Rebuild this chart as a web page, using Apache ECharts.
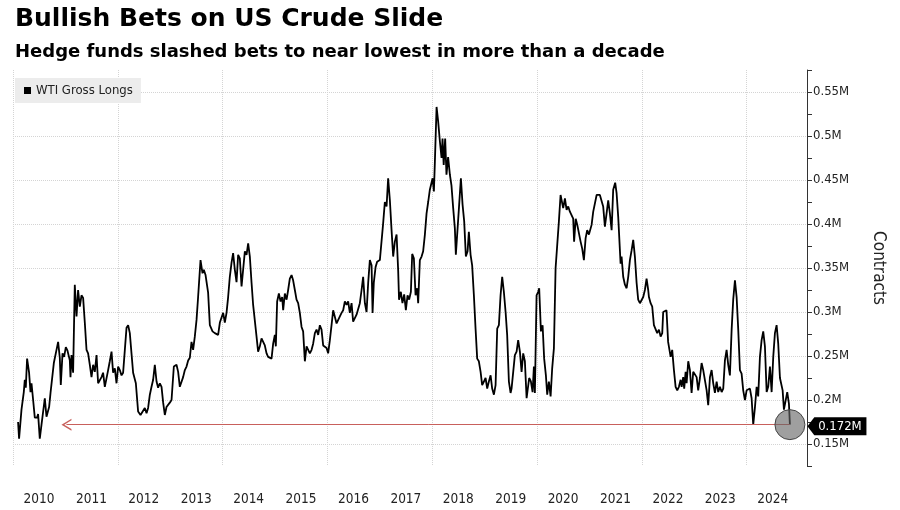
<!DOCTYPE html>
<html><head><meta charset="utf-8">
<script src="https://cdn.jsdelivr.net/npm/echarts@6/dist/echarts.min.js"></script>
<style>html,body{margin:0;padding:0;background:#fff}#c{width:900px;height:510px}</style>
</head><body><div id="c"></div>
<script>
// Weekly-ish readings of WTI gross long positions (thousand contracts) by fractional year
const years = [2010.097,2010.116,2010.162,2010.206,2010.225,2010.244,2010.269,2010.307,2010.334,2010.353,
2010.384,2010.416,2010.460,2010.479,2010.511,2010.544,2010.574,2010.607,2010.639,2010.689,
2010.716,2010.746,2010.779,2010.811,2010.830,2010.861,2010.893,2010.912,2010.945,2010.975,
2011.008,2011.040,2011.065,2011.084,2011.097,2011.116,2011.147,2011.179,2011.212,2011.242,
2011.275,2011.307,2011.338,2011.370,2011.403,2011.433,2011.466,2011.498,2011.529,2011.561,
2011.594,2011.624,2011.656,2011.689,2011.719,2011.752,2011.784,2011.815,2011.847,2011.880,
2011.910,2011.943,2011.975,2012.006,2012.038,2012.071,2012.101,2012.134,2012.166,2012.197,
2012.229,2012.261,2012.292,2012.344,2012.387,2012.433,2012.471,2012.515,2012.548,2012.578,
2012.611,2012.643,2012.674,2012.706,2012.739,2012.769,2012.802,2012.834,2012.865,2012.897,
2012.929,2012.960,2012.992,2013.025,2013.069,2013.120,2013.151,2013.183,2013.216,2013.246,
2013.279,2013.311,2013.342,2013.374,2013.406,2013.437,2013.469,2013.502,2013.532,2013.578,
2013.616,2013.641,2013.674,2013.723,2013.756,2013.807,2013.851,2013.914,2013.947,2013.979,
2014.010,2014.042,2014.074,2014.105,2014.137,2014.170,2014.200,2014.233,2014.265,2014.296,
2014.328,2014.361,2014.391,2014.424,2014.456,2014.487,2014.519,2014.552,2014.582,2014.615,
2014.647,2014.677,2014.710,2014.742,2014.773,2014.805,2014.838,2014.868,2014.901,2014.933,
2014.964,2014.996,2015.015,2015.040,2015.073,2015.105,2015.136,2015.155,2015.187,2015.220,
2015.250,2015.282,2015.315,2015.345,2015.378,2015.410,2015.441,2015.473,2015.506,2015.536,
2015.569,2015.601,2015.632,2015.664,2015.697,2015.727,2015.760,2015.792,2015.823,2015.855,
2015.887,2015.918,2015.950,2015.983,2016.013,2016.046,2016.078,2016.109,2016.141,2016.174,
2016.204,2016.237,2016.269,2016.300,2016.332,2016.365,2016.395,2016.427,2016.460,2016.490,
2016.523,2016.555,2016.586,2016.618,2016.651,2016.681,2016.714,2016.746,2016.777,2016.809,
2016.842,2016.861,2016.884,2016.918,2016.948,2017.000,2017.033,2017.063,2017.095,2017.128,
2017.158,2017.191,2017.223,2017.254,2017.286,2017.319,2017.350,2017.366,2017.400,2017.431,
2017.464,2017.496,2017.528,2017.559,2017.592,2017.617,2017.649,2017.681,2017.712,2017.731,
2017.763,2017.796,2017.826,2017.859,2017.891,2017.922,2017.954,2017.987,2018.006,2018.031,
2018.050,2018.082,2018.113,2018.145,2018.177,2018.196,2018.218,2018.246,2018.271,2018.302,
2018.336,2018.366,2018.399,2018.431,2018.450,2018.483,2018.513,2018.546,2018.578,2018.609,
2018.641,2018.674,2018.698,2018.731,2018.761,2018.794,2018.826,2018.857,2018.889,2018.922,
2018.952,2018.985,2019.017,2019.048,2019.080,2019.113,2019.143,2019.176,2019.208,2019.239,
2019.271,2019.303,2019.334,2019.366,2019.399,2019.429,2019.462,2019.494,2019.513,2019.544,
2019.576,2019.609,2019.639,2019.672,2019.704,2019.735,2019.767,2019.800,2019.830,2019.849,
2019.882,2019.914,2019.939,2019.958,2019.990,2020.021,2020.040,2020.073,2020.105,2020.135,
2020.168,2020.193,2020.225,2020.258,2020.288,2020.321,2020.353,2020.384,2020.416,2020.448,
2020.479,2020.498,2020.531,2020.563,2020.594,2020.626,2020.658,2020.689,2020.706,2020.737,
2020.767,2020.798,2020.830,2020.861,2020.893,2020.926,2020.956,2020.989,2021.040,2021.071,
2021.103,2021.136,2021.166,2021.198,2021.231,2021.261,2021.294,2021.326,2021.357,2021.389,
2021.422,2021.452,2021.490,2021.517,2021.548,2021.567,2021.593,2021.612,2021.643,2021.676,
2021.708,2021.739,2021.771,2021.803,2021.834,2021.866,2021.899,2021.929,2021.962,2021.994,
2022.025,2022.057,2022.089,2022.120,2022.134,2022.166,2022.197,2022.229,2022.261,2022.292,
2022.325,2022.357,2022.388,2022.406,2022.437,2022.469,2022.500,2022.519,2022.548,2022.578,
2022.611,2022.643,2022.674,2022.706,2022.739,2022.758,2022.788,2022.807,2022.834,2022.853,
2022.884,2022.916,2022.948,2022.979,2023.011,2023.044,2023.074,2023.107,2023.139,2023.170,
2023.202,2023.235,2023.265,2023.298,2023.330,2023.361,2023.393,2023.426,2023.456,2023.489,
2023.521,2023.552,2023.584,2023.616,2023.647,2023.679,2023.712,2023.742,2023.775,2023.807,
2023.838,2023.870,2023.902,2023.933,2023.966,2023.998,2024.029,2024.061,2024.093,2024.124,
2024.156,2024.189,2024.219,2024.252,2024.284,2024.315,2024.347,2024.380,2024.410,2024.443,
2024.475,2024.506,2024.538,2024.570,2024.601,2024.634,2024.666,2024.685,2024.710,2024.742,
2024.773,2024.805,2024.824];
const grossLongs = [175,156,189,209,223,214,247,231,209,219,
200,180,180,184,156,172,174,202,181,192,
208,206,242,240,257,266,248,217,253,249,
260,256,258,245,226,251,231,331,295,325,
306,319,316,288,257,253,240,226,240,232,
251,219,221,226,231,215,214,234,244,255,
231,236,219,238,234,228,231,257,282,285,
276,253,231,219,187,183,181,191,185,191,
206,215,223,240,221,214,219,215,197,183,
192,194,197,200,238,240,232,215,217,226,
234,238,245,248,266,257,272,291,317,359,
344,348,342,322,285,278,276,274,288,288,
299,288,299,317,340,356,367,348,334,365,
361,329,348,369,365,378,363,333,308,306,
272,255,261,270,268,262,253,249,249,247,
264,274,261,312,321,312,317,302,321,314,
325,338,342,336,325,314,310,299,283,278,
244,261,262,253,257,264,276,280,274,285,
280,262,261,259,253,268,285,302,300,287,
289,295,299,302,312,308,312,299,310,289,
291,297,299,310,325,340,310,300,333,359,
353,299,333,351,357,359,361,401,425,420,
452,427,393,363,380,388,346,314,323,310,
320,302,319,314,323,366,361,319,327,310,
359,363,369,388,412,425,439,437,452,437,
471,533,516,494,475,497,467,497,456,476,
456,444,418,395,365,365,422,452,422,403,
363,369,391,365,353,319,281,247,244,232,
217,221,225,213,221,228,213,206,217,281,
285,319,340,323,300,274,221,208,213,211,
251,255,268,255,232,253,244,202,202,225,
221,209,238,208,319,323,327,278,285,247,
228,206,221,204,236,259,350,376,403,433,
431,418,429,416,420,414,412,406,380,406,
399,401,380,372,359,384,393,388,399,414,
416,433,433,433,435,420,397,412,427,412,
393,439,447,435,408,408,355,363,340,331,
327,340,359,370,382,363,333,314,310,312,
317,325,338,325,317,310,306,285,283,276,
280,272,276,300,300,302,266,264,249,257,
234,215,211,215,223,215,226,213,232,219,
244,234,208,232,232,226,211,225,242,234,
236,211,194,226,234,219,208,221,209,215,
209,213,245,257,240,228,280,314,336,317,
280,234,230,211,200,211,209,213,202,172,
191,215,204,249,268,278,261,209,215,238,
209,249,276,285,264,225,223,211,189,191,
209,196,172];
const yearLabels = ['2010','2011','2012','2013','2014','2015','2016','2017','2018','2019','2020','2021','2022','2023','2024'];
const yTickValues = [150,200,250,300,350,400,450,500,550];
const lastLabel = '0.172M';
const arrowStartYear = 2011.02;

const FONT = "'DejaVu Sans Condensed','DejaVu Sans',sans-serif";
const chart = echarts.init(document.getElementById('c'), null, {renderer: 'canvas'});
const data = years.map((y, i) => [y, grossLongs[i]]);
const lastPt = data[data.length - 1];
const chevron = 'path://M0,10 L5,0 L10,10 L8.6,10 L5,2.8 L1.4,10 Z';
const tag = 'path://M0,9 L7,0 L60,0 L60,18 L7,18 Z';

chart.setOption({
  animation: false,
  backgroundColor: '#fff',
  title: [
    {text: 'Bullish Bets on US Crude Slide', left: 15, top: 7, padding: 0,
     textStyle: {fontFamily: 'DejaVu Sans', fontWeight: 'bold', fontSize: 25, color: '#000'}},
    {text: 'Hedge funds slashed bets to near lowest in more than a decade', left: 15, top: 43, padding: 0,
     textStyle: {fontFamily: 'DejaVu Sans', fontWeight: 'bold', fontSize: 18, color: '#000'}}
  ],
  legend: {
    left: 15, top: 78, padding: [6, 8, 6, 9], backgroundColor: '#ececec',
    itemWidth: 7, itemHeight: 7, icon: 'rect',
    data: ['WTI Gross Longs'],
    textStyle: {fontFamily: FONT, fontSize: 13, color: '#222'}
  },
  grid: {left: 13, right: 93, top: 70, bottom: 44},
  xAxis: {
    type: 'value', min: 2010, max: 2025.15, interval: 1,
    axisLine: {show: false}, axisTick: {show: false},
    splitLine: {show: true, lineStyle: {color: ['#d4d4d4', 'transparent'], type: 'dotted', width: 1}},
    axisLabel: {
      margin: 26,
      formatter: function (v) {
        const i = Math.round(v - 2010);
        if (Math.abs(v - Math.round(v)) > 1e-6 || i < 0 || i >= yearLabels.length) return '';
        return '{a|' + yearLabels[i] + '}';
      },
      rich: {a: {padding: [0, 0, 0, 52], fontSize: 13.5, fontFamily: FONT, color: '#222'}}
    }
  },
  yAxis: {
    type: 'value', position: 'right', min: 125, max: 575, interval: 25,
    name: 'Contracts', nameLocation: 'middle', nameRotate: -90, nameGap: 63,
    nameTextStyle: {fontSize: 17, fontFamily: FONT, color: '#222'},
    axisLine: {show: true, lineStyle: {color: '#333', width: 1}},
    axisTick: {show: true, length: 5, lineStyle: {color: '#333'}},
    axisLabel: {
      margin: 6, fontSize: 13, fontFamily: FONT, color: '#222',
      formatter: v => yTickValues.includes(v) ? (v / 1000) + 'M' : ''
    },
    splitLine: {show: true, lineStyle: {color: ['transparent', '#d4d4d4'], type: 'dotted', width: 1}}
  },
  series: [{
    name: 'WTI Gross Longs', type: 'line', data: data,
    showSymbol: false, symbol: 'none', clip: false,
    color: '#000',
    lineStyle: {color: '#000', width: 1.8},
    markLine: {
      silent: true, symbol: [chevron, 'none'], symbolSize: [12, 10],
      label: {show: false},
      lineStyle: {color: '#c8605c', width: 1, type: 'solid'},
      emphasis: {disabled: true},
      data: [[{coord: [arrowStartYear, lastPt[1]]}, {coord: [lastPt[0], lastPt[1]]}]]
    },
    markPoint: {
      silent: true,
      data: [
        {coord: lastPt, symbol: 'circle', symbolSize: 30,
         itemStyle: {color: 'rgba(100,100,100,0.62)', borderColor: '#444', borderWidth: 1},
         label: {show: false}},
        {coord: lastPt, symbol: tag, symbolSize: [59, 18], symbolOffset: [47, 1.5],
         itemStyle: {color: '#000'},
         label: {show: true, formatter: lastLabel, color: '#fff', fontSize: 13, fontFamily: FONT, offset: [3, 0]}}
      ]
    }
  }]
});
</script></body></html>
